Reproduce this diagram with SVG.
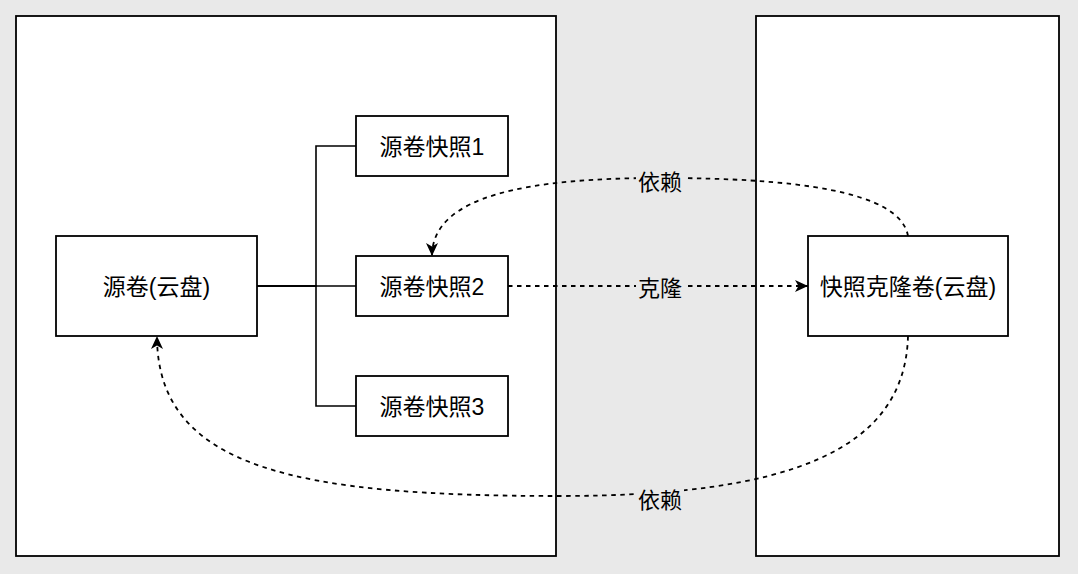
<svg xmlns="http://www.w3.org/2000/svg" width="1078" height="574" viewBox="0 0 1078 574">
<defs>
<style>
.box{fill:#ffffff;stroke:#000000;stroke-width:1.8}
.t{font-family:"Liberation Sans","Noto Sans CJK SC",sans-serif;font-size:23px;fill:#000000;text-anchor:middle;dominant-baseline:central}
.lbl{font-family:"Liberation Sans","Noto Sans CJK SC",sans-serif;font-size:22px;fill:#000000;text-anchor:middle;dominant-baseline:central}
.solid{fill:none;stroke:#000000;stroke-width:1.6}
.dash{fill:none;stroke:#000000;stroke-width:1.8;stroke-dasharray:4.5 4.5}
.lblbg{fill:#e9e9e9}
</style>
<marker id="arr" markerUnits="userSpaceOnUse" markerWidth="14" markerHeight="12" viewBox="0 0 14 12" refX="13" refY="6" orient="auto">
<path d="M0,0 L13,6 L0,12 L3.5,6 Z" fill="#000000"/>
</marker>
</defs>
<rect x="0" y="0" width="1078" height="574" fill="#e9e9e9"/>
<g id="container-left"><rect class="box" x="16" y="16" width="540" height="540"/></g>
<g id="container-right"><rect class="box" x="756" y="16" width="303" height="540"/></g>
<g id="connectors">
<path class="solid" d="M257,286 H316 V146 H356"/>
<path class="solid" d="M257,286 H356"/>
<path class="solid" d="M257,286 H316 V406 H356"/>
<path class="dash" d="M508,286 H808" marker-end="url(#arr)"/>
<path class="dash" d="M908,236 C900,190 790,178 660,178 C530,178 432,195 432,256" marker-end="url(#arr)"/>
<path class="dash" d="M908,336 C905,450 790,496 560,496 C300,496 157,470 157,336" marker-end="url(#arr)"/>
<rect class="lblbg" x="636" y="170" width="48" height="24"/>
<text class="lbl" x="660" y="182">依赖</text>
<rect class="lblbg" x="636" y="276" width="48" height="24"/>
<text class="lbl" x="660" y="288">克隆</text>
<rect class="lblbg" x="636" y="488" width="48" height="24"/>
<text class="lbl" x="660" y="500">依赖</text>
</g>
<g id="source-volume"><rect class="box" x="56" y="236" width="201" height="100"/><text class="t" x="156.5" y="287">源卷(云盘)</text></g>
<g id="snapshot1"><rect class="box" x="356" y="116" width="152" height="60"/><text class="t" x="432" y="147">源卷快照1</text></g>
<g id="snapshot2"><rect class="box" x="356" y="256" width="152" height="60"/><text class="t" x="432" y="287">源卷快照2</text></g>
<g id="snapshot3"><rect class="box" x="356" y="376" width="152" height="60"/><text class="t" x="432" y="407">源卷快照3</text></g>
<g id="clone-volume"><rect class="box" x="808" y="236" width="200" height="100"/><text class="t" x="908" y="287">快照克隆卷(云盘)</text></g>
</svg>
